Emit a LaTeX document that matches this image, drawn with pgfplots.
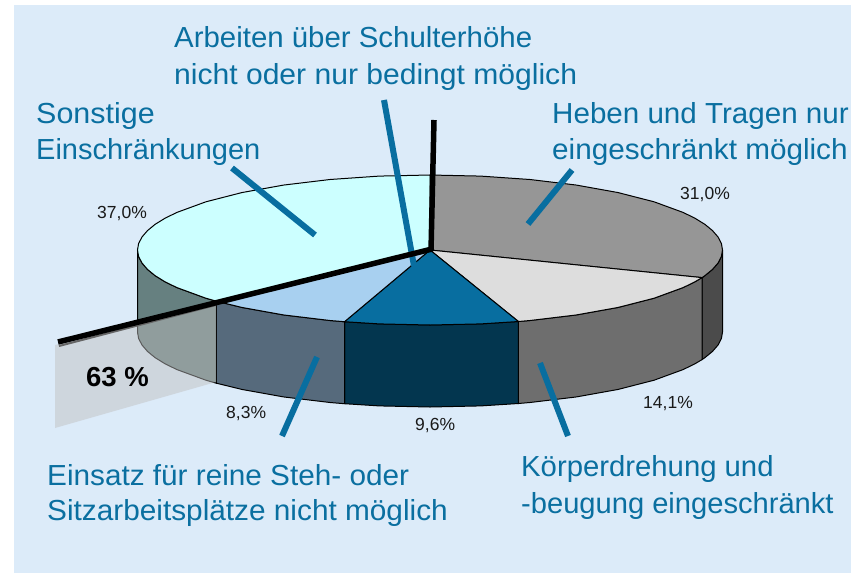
\documentclass[border=0pt]{standalone}
\usepackage{fontspec}
\setmainfont{Liberation Sans}
\usepackage{pgfplots}
\pgfplotsset{compat=1.18}
\definecolor{bgc}{HTML}{DCEBF9}
\definecolor{txtb}{HTML}{0A6FA0}
\definecolor{t1}{HTML}{969696}
\definecolor{t2}{HTML}{DDDDDD}
\definecolor{t3}{HTML}{086EA0}
\definecolor{t4}{HTML}{A8D0F0}
\definecolor{t5}{HTML}{CCFFFF}
\definecolor{s0}{HTML}{4B4B4B}
\definecolor{s2}{HTML}{6E6E6E}
\definecolor{s3}{HTML}{03364F}
\definecolor{s4}{HTML}{566A7C}
\definecolor{s5}{HTML}{668080}
\newcommand{\bl}[4]{\node[anchor=base west,inner sep=0pt,text=txtb,font=\fontsize{29}{31}\selectfont] at (axis cs:#1,#2) {\scalebox{#3}[1]{#4}};}
\newcommand{\pc}[3]{\node[anchor=base west,inner sep=0pt,text=black!90,font=\fontsize{17.5}{19}\selectfont] at (axis cs:#1,#2) {#3};}
\begin{document}
\begin{tikzpicture}
\begin{axis}[scale only axis,width=851pt,height=573pt,xmin=0,xmax=851,ymin=0,ymax=573,y dir=reverse,hide axis,no marks,clip=true]
% page and panel
\addplot[fill=white,draw=none] coordinates {(0,0)(851,0)(851,573)(0,573)} --cycle;
\addplot[fill=bgc,draw=none] coordinates {(14,5)(851,5)(851,573)(14,573)} --cycle;
% side faces
\addplot[fill=s0,draw=black,line width=1pt] coordinates {(722.5,250)(721.4,256.5)(718.05,263)(712.5,269.4)(704.9,275.65)(702,277.6)(702,359.6)(704.9,357.65)(712.5,351.4)(718.05,345)(721.4,338.5)(722.5,332)} --cycle;
\addplot[fill=s2,draw=black,line width=1pt] coordinates {(702,277.6)(695.1,281.7)(683.3,287.5)(654.1,298.2)(618,307.45)(576.25,314.95)(530,320.5)(518.4,321.5)(518.4,403.5)(530,402.5)(576.25,396.95)(618,389.45)(654.1,380.2)(683.3,369.5)(695.1,363.7)(702,359.6)} --cycle;
\addplot[fill=s3,draw=black,line width=1pt] coordinates {(518.4,321.5)(480.8,323.9)(430,325)(379.2,323.9)(344.5,321.7)(344.5,403.7)(379.2,405.9)(430,407)(480.8,405.9)(518.4,403.5)} --cycle;
\addplot[fill=s4,draw=black,line width=1pt] coordinates {(344.5,321.7)(330,320.5)(283.75,314.95)(242,307.45)(216.4,301.2)(216.4,383.2)(242,389.45)(283.75,396.95)(330,402.5)(344.5,403.7)} --cycle;
\addplot[fill=s5,draw=black,line width=1pt] coordinates {(216.4,301.2)(205.9,298.2)(176.7,287.5)(164.9,281.7)(155.1,275.65)(147.5,269.4)(142,263)(138.6,256.5)(137.5,250)(137.5,332)(138.6,338.5)(142,345)(147.5,351.4)(155.1,357.65)(164.9,363.7)(176.7,369.5)(205.9,380.2)(216.4,383.2)} --cycle;
% top faces
\addplot[fill=t1,draw=black,line width=1pt] coordinates {(430,250)(430,175)(480.8,176.1)(530,179.5)(576.25,185.05)(618,192.55)(654.1,201.8)(683.3,212.5)(695.1,218.3)(704.9,224.35)(712.5,230.6)(718.05,237)(721.4,243.5)(722.5,250)(721.4,256.5)(718.05,263)(712.5,269.4)(704.9,275.65)(702,277.6)} --cycle;
\addplot[fill=t2,draw=black,line width=1pt] coordinates {(430,250)(702,277.6)(695.1,281.7)(683.3,287.5)(654.1,298.2)(618,307.45)(576.25,314.95)(530,320.5)(518.4,321.5)} --cycle;
\addplot[fill=t3,draw=black,line width=1pt] coordinates {(430,250)(518.4,321.5)(480.8,323.9)(430,325)(379.2,323.9)(344.5,321.7)} --cycle;
\addplot[fill=t4,draw=black,line width=1pt] coordinates {(430,250)(344.5,321.7)(330,320.5)(283.75,314.95)(242,307.45)(216.4,301.2)} --cycle;
\addplot[fill=t5,draw=black,line width=1pt] coordinates {(430,250)(216.4,301.2)(205.9,298.2)(176.7,287.5)(164.9,281.7)(155.1,275.65)(147.5,269.4)(142,263)(138.6,256.5)(137.5,250)(138.6,243.5)(142,237)(147.5,230.6)(155.1,224.35)(164.9,218.3)(176.7,212.5)(205.9,201.8)(242,192.55)(283.75,185.05)(330,179.5)(379.2,176.1)(430,175)} --cycle;
% translucent 63 % band
\addplot[fill=black!25,fill opacity=0.475,draw=none] coordinates {(55,345)(216,303)(216,382)(55,428)} --cycle;
\addplot[draw=black!60,line width=2pt] coordinates {(59,346)(216,305)};
% callout lines
\addplot[draw=t3,line width=6pt] coordinates {(384,100)(414,266)};
\addplot[draw=t3,line width=6pt] coordinates {(232,168)(315,235)};
\addplot[draw=t3,line width=6pt] coordinates {(572,170)(528,224)};
\addplot[draw=t3,line width=6pt] coordinates {(540,363)(568,436)};
\addplot[draw=t3,line width=6pt] coordinates {(317,357)(282,436)};
% black marker lines
\addplot[draw=black,line width=5.5pt] coordinates {(58,342)(432,249)};
\addplot[draw=black,line width=5.5pt] coordinates {(434,120)(431,251)};
% texts
\bl{174}{47}{1.014}{Arbeiten über Schulterhöhe}
\bl{174}{84}{1.037}{nicht oder nur bedingt möglich}
\bl{36}{123}{1.05}{Sonstige}
\bl{36}{159}{1.0}{Einschränkungen}
\bl{552}{123}{1.02}{Heben und Tragen nur}
\bl{552}{159}{1.024}{eingeschränkt möglich}
\bl{521}{476}{1.01}{Körperdrehung und}
\bl{521}{513}{1.004}{-beugung eingeschränkt}
\bl{47}{485.5}{1.025}{Einsatz für reine Steh- oder}
\bl{47}{520.5}{1.027}{Sitzarbeitsplätze nicht möglich}
\pc{680}{199}{31,0\%}
\pc{97}{218}{37,0\%}
\pc{643}{408}{14,1\%}
\pc{415}{430.5}{9,6\%}
\pc{226}{418}{8,3\%}
\node[anchor=base west,inner sep=0pt,text=black,font=\fontsize{27.5}{29}\selectfont\bfseries] at (axis cs:86,386) {63 \%};
\end{axis}
\end{tikzpicture}
\end{document}
